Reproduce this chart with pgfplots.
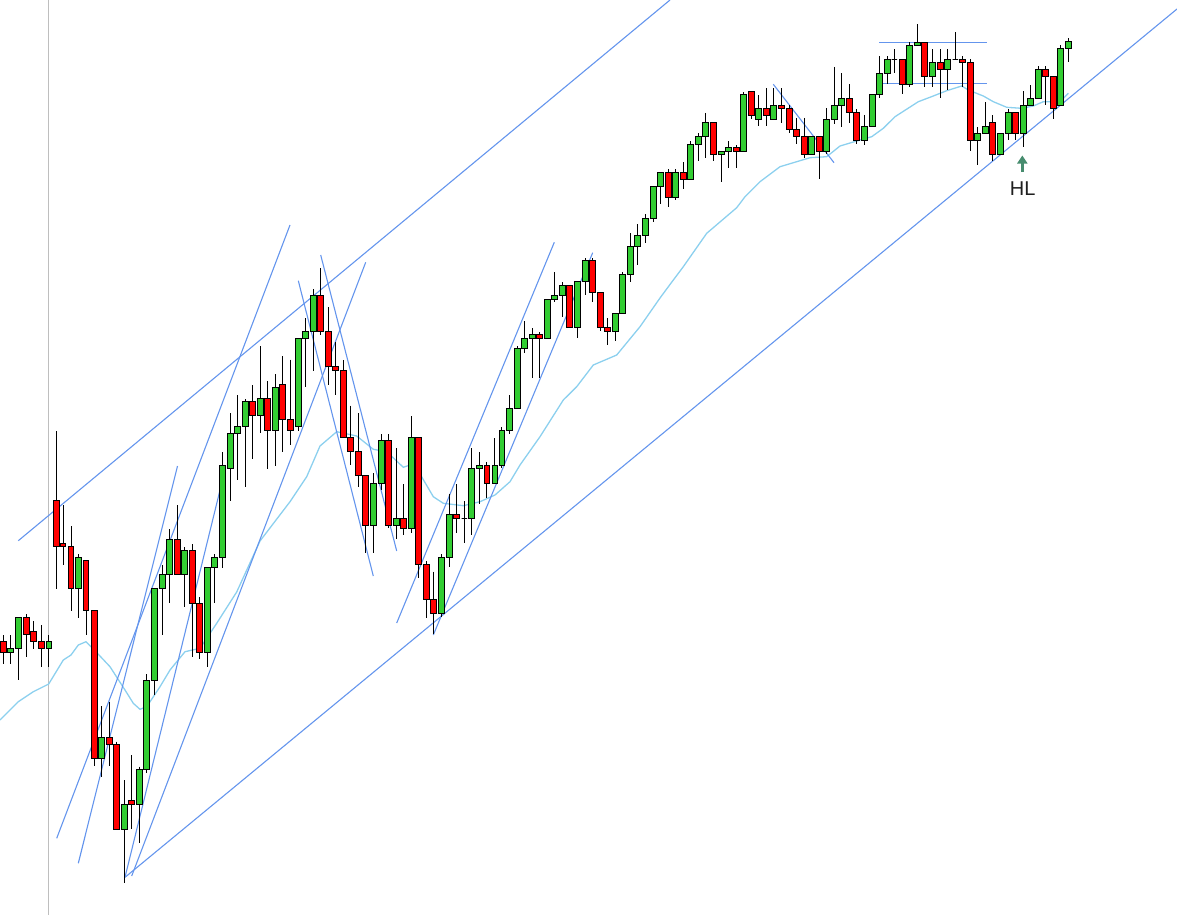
\documentclass[border=0pt]{standalone}
\usepackage{fontspec}
\setmainfont{Liberation Sans}
\usepackage{pgfplots}
\usepackage{pgfplotstable}
\pgfplotsset{compat=1.18}
\usetikzlibrary{arrows.meta}

\definecolor{cgreen}{RGB}{50,205,50}
\definecolor{cred}{RGB}{255,0,0}
\definecolor{tline}{RGB}{100,149,237}
\definecolor{maline}{RGB}{140,208,238}
\definecolor{arrowc}{RGB}{70,140,110}
\definecolor{vgray}{RGB}{190,190,190}
\tikzset{tl/.style={tline, line width=0.55pt}}

% candle columns: x, open, high, low, close (screen rows, y axis reversed)
\pgfplotstableread{
x o h l c
3.3 641.3 635 663.7 652.3
10.3 652.3 635 663.7 648.3
18.3 648.3 617.3 680.3 617.3
26.3 617.3 614 656.7 634.3
33.3 631.3 621 648.7 641.3
41.3 641.3 625 666.7 648.3
48.7 648.3 635 666.7 641.3
56.3 500.3 431 588.7 546.7
63 543.3 505 565 546.7
71 546.7 526 610.7 588.3
78.3 588.3 554.3 617.7 557
86 560.3 560.3 635 610.3
94.3 610.3 610.3 765.7 758.3
101.3 758.3 706 776.7 737.3
109.3 737.3 701.7 765.7 744.3
116.3 744.3 741.7 829.3 829.3
124.3 829.3 780 882.5 804.3
131.3 800.3 755 829.3 804.3
139.3 804.3 766.7 843.3 769.3
146.3 769.3 674 772.7 680.3
154.3 680.3 588.3 695 588.3
162.3 588.3 565 635 574.3
169.3 574.3 529 603.3 539
177.3 539 505 574.3 574.3
184.3 574.3 547 606.7 550.3
192.3 550.3 544 656.7 603.3
199.3 603.3 597 659.3 652.3
207.3 652.3 567 666.7 567
214.3 567 554 603.3 557
222.3 557 452 567.7 465
230.3 468.3 413.3 500.7 433.3
237.3 433.3 395 480 426.3
245.3 426.3 399.3 486.7 401.3
252.3 401.3 385.3 458.7 415.3
260.3 415.3 346.3 433.3 398.3
267.3 398.3 381.3 468.7 430.3
275.3 430.3 374.3 465.7 387.3
282.3 384.3 356.3 451.7 419.3
290.3 419.3 359.7 444.7 430.3
298.3 426.3 338.3 430.7 338.3
305.3 338.3 318.3 387.3 331.3
313.3 331.3 289 370.7 295.3
320.3 295.3 268 334.7 331.3
328.3 331.3 307.3 384.7 366.3
335.3 366.3 342.3 394.7 370.3
343.3 370.3 360.3 437.3 437.3
350.3 437.3 405.7 465.3 451.3
358.3 451.3 413.3 486.7 475.3
365.3 475.3 475.3 553.3 525.3
373.3 525.3 473.3 553.3 483.3
381.3 483.3 434 490 440.7
388.3 440.7 434 528.3 525.3
396.3 525.3 448.3 539.3 518.3
403.3 518.3 484.3 535.3 528.3
411.3 528.3 416 532.7 437.3
418.3 437.3 437.3 578.3 564.3
426.3 564.3 561 618.3 599.3
433.3 599.3 571.7 634 613.3
441.3 613.3 554 617.3 557.3
449.3 557.3 494.3 567.3 514.3
456.3 514.3 484 532.7 518.3
464.3 518.3 501 543.3 518.3
471.3 518.3 448.3 535.3 468.3
479.3 468.3 452 504.3 465.3
486.7 465.3 462.3 497.7 483.3
494.7 483.3 438.3 483.3 465.3
501.7 465.3 427 468.3 430.3
509.3 430.3 395 433.7 408.3
517.3 408.3 346.3 408.3 348.3
524.3 348.3 321 352.7 338.3
532.3 338.3 328 377.7 334.3
539.3 334.3 332.3 377.7 338.3
547.3 338.3 299.3 338.3 299.3
554.3 299.3 272 302.3 295.3
562.3 295.3 282.3 317.3 285.3
569.3 285.3 285.3 327.3 327.3
577.3 327.3 281.3 338.3 281.3
585.3 281.3 258.3 295.3 260.3
592.3 260.3 258.3 302.3 292.3
600.3 292.3 292.3 331.3 327.3
607.3 327.3 318.3 345.3 331.3
615.3 331.3 313.3 341.3 313.3
622.3 313.3 272.3 313.3 274.3
630.3 274.3 233.3 281.7 246.3
637.3 246.3 224 264.5 235.3
645.3 235.3 214.3 242.7 218.3
653.3 218.3 186.3 221.7 186.3
660.3 186.3 172.3 204.3 172.3
668.3 172.3 169.3 207.3 197.3
675.3 197.3 169.3 200.3 172.3
683.3 172.3 162.3 189.3 179.3
690.3 179.3 141.3 179.3 144.3
698.3 144.3 133.3 161.3 136.3
705.3 136.3 113 158.3 122.3
713.3 122.3 122.3 161.3 154.3
721.3 154.3 151.3 182.3 151.3
728.3 151.3 141.3 168.3 147.3
736.3 147.3 145.3 168.3 151.3
743.3 151.3 92.3 151.3 94.3
751.3 91.3 91.3 119.3 115.3
758.3 119.3 95.3 126.3 108.3
766.3 108.3 88.3 126.3 115.3
773.3 119.3 88.3 119.3 105.3
781.3 105.3 88.3 123.3 108.3
789.3 108.3 105.3 133.3 129.3
796.3 129.3 118 144.3 136.3
804.3 136.3 118 158.3 154.3
811.3 154.3 136.3 154.3 136.3
819.3 136.3 136.3 179.3 151.3
826.3 151.3 108.3 154.3 119.3
834.3 119.3 67 124 105.3
841.3 105.3 73.3 126.7 98.3
849.3 98.3 84.3 123.3 112.3
856.3 112.3 109.3 144.3 140.3
864.3 140.3 115 145 126.3
872.3 126.3 94.3 126.3 94.3
879.3 94.3 56.3 98.3 73.3
887.3 73.3 56.3 84.3 59.3
894.3 59.3 49.3 73.3 59.3
902.3 59.3 59.3 94.3 84.3
909.3 84.3 42.3 87.3 45.3
917.3 45.3 24.3 45.3 42.3
924.3 42.3 42.3 87.3 76.3
932.3 76.3 49.3 87.3 62.3
940.3 62.3 49.3 98.3 69.3
947.3 69.3 49.3 90.3 59.3
955.3 59.3 32.3 59.3 59.3
962.3 59.3 56.3 86.7 62.3
970.3 62.3 59.3 151.3 140.3
977.3 140.3 127.3 165.3 133.3
985.3 133.3 102.3 133.3 126.3
992.3 122.3 115.3 161.3 154.3
1000.3 154.3 133.3 154.3 133.3
1008.3 133.3 109.3 140.3 112.3
1015.3 112.3 112.3 140.3 133.3
1023.3 133.3 91.3 147.3 105.3
1030.3 105.3 85.3 105.3 98.3
1038.3 98.3 66.3 98.3 69.3
1045.3 69.3 66.3 105.3 76.3
1053.3 76.3 76.3 119.3 108.3
1060.3 105.3 45.3 105.3 48.3
1068.3 48.3 38.3 62.3 41.3
}\candles

\pgfplotstableread{
x y
0 720
18.3 701.7
33.3 691.7
48.7 684
63.3 660
71 655
78.3 645
86 641.7
94.3 650
110 666.7
125 690
133.3 703.3
140 709.3
146.7 706.7
160 686.7
170 670
185 651.7
200 648.3
216.7 623.3
236.7 592
260 541
290 501.7
306.7 476.7
320 446
336.7 431.7
356.7 436
373.3 449.3
386.7 451.7
403.3 467.3
410 465
420 474
433.3 496.7
443.3 503.3
463.3 505.7
480 501.7
495 495
510 481.7
520 465
540 436.7
563.3 400
576.7 386.7
593.3 365
616.7 355
640 326.7
660 298
673.3 280
683.3 266.7
706.7 233.3
736.7 207.7
745 196.7
760 181.7
780 166.7
810 157.7
826.7 156.7
840 146
860 140
871.7 136.7
883.3 128.3
895 116.7
918.3 101.7
933.3 96
946.7 90.7
961.7 86
968.3 90
983.3 96
993.3 101.7
1006.7 107.3
1021.7 108.3
1033.3 106
1043.3 101.7
1060 101.7
1068.3 93.3
}\maline

\pgfdeclareplotmark{candle}{%
  \pgfmathsetmacro\cHy{(\candO-\candH)*0.5}%
  \pgfmathsetmacro\cLy{(\candO-\candL)*0.5}%
  \pgfmathsetmacro\cCy{(\candO-\candC)*0.5}%
  \pgfsetlinewidth{0.5pt}%
  \pgfsetstrokecolor{black}%
  \pgfpathmoveto{\pgfqpoint{0pt}{\cHy pt}}%
  \pgfpathlineto{\pgfqpoint{0pt}{\cLy pt}}%
  \pgfusepath{stroke}%
  \ifdim\candC pt<\candO pt\relax \pgfsetfillcolor{cgreen}\else\pgfsetfillcolor{cred}\fi
  \pgfpathrectangle{\pgfqpoint{-1.35pt}{0pt}}{\pgfqpoint{2.7pt}{\cCy pt}}%
  \pgfusepath{fill,stroke}%
}

\begin{document}
\begin{tikzpicture}
\begin{axis}[
  x=0.5pt, y=0.5pt,
  y dir=reverse,
  xmin=0, xmax=1177, ymin=0, ymax=915,
  hide axis,
  clip=true,
]
\addplot[draw=none] coordinates {(0,0) (1177,915)};
\addplot[vgray, line width=0.6pt] coordinates {(48.7,0) (48.7,915)};

\addplot[scatter, only marks, mark=candle,
  scatter/@pre marker code/.code={},
  scatter/@post marker code/.code={},
  visualization depends on={\thisrow{o}\as\candO},
  visualization depends on={\thisrow{h}\as\candH},
  visualization depends on={\thisrow{l}\as\candL},
  visualization depends on={\thisrow{c}\as\candC},
] table[x=x, y=o] {\candles};

\addplot[maline, line width=0.65pt] table[x=x, y=y] {\maline};

\addplot[tl] coordinates {(18.3,540.7) (670,0)};
\addplot[tl] coordinates {(125,877.3) (1177,9)};
\addplot[tl] coordinates {(56.7,838.3) (290,225)};
\addplot[tl] coordinates {(78.3,863.3) (177.5,466)};
\addplot[tl] coordinates {(125,877.3) (222,482)};
\addplot[tl] coordinates {(131.7,876) (365.7,262.3)};
\addplot[tl] coordinates {(298.3,280.7) (373.3,576)};
\addplot[tl] coordinates {(320.7,255) (396.7,551)};
\addplot[tl] coordinates {(396.7,623) (554.3,242.3)};
\addplot[tl] coordinates {(433.3,635) (592.7,252.7)};
\addplot[tl] coordinates {(773.3,84.3) (834,162.7)};
\addplot[tl] coordinates {(879.3,42.3) (986.7,42.3)};
\addplot[tl] coordinates {(879.3,83.3) (986.7,83.3)};

\addplot[arrowc, line width=1.5pt, -{Triangle[length=4pt,width=5pt]}] coordinates {(1022.3,172) (1022.3,155.5)};
\node[font=\fontsize{10}{12}\selectfont, text=black!88, inner sep=0pt] at (axis cs:1022.7,188.3) {HL};
\end{axis}
\end{tikzpicture}
\end{document}
